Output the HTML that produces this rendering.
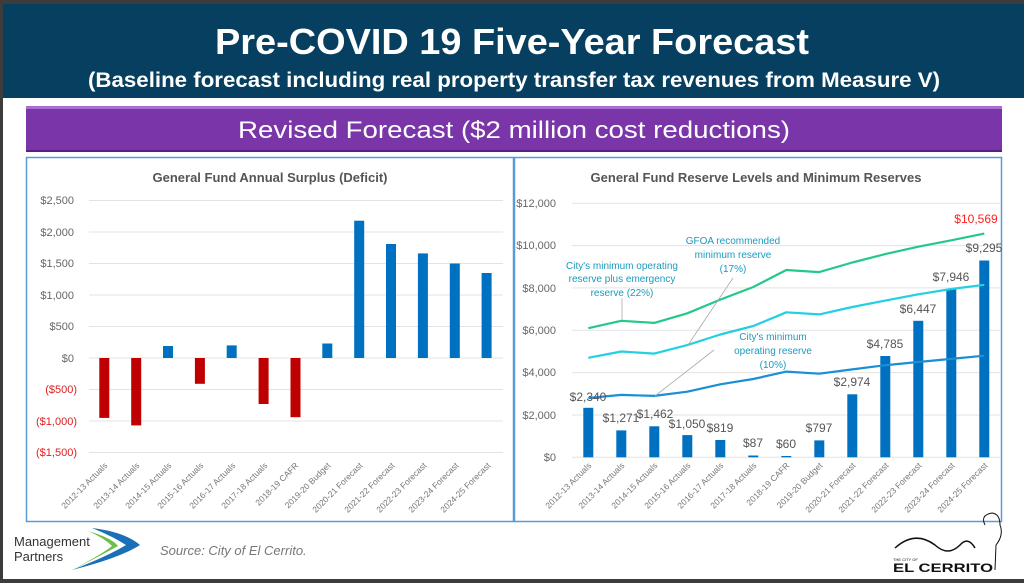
<!DOCTYPE html>
<html><head><meta charset="utf-8"><style>
html,body{margin:0;padding:0;background:#fff;}
svg{display:block;}
text{font-family:"Liberation Sans",sans-serif;}
</style></head><body>
<svg width="1024" height="583" viewBox="0 0 1024 583" xmlns="http://www.w3.org/2000/svg">
<rect x="0" y="0" width="1024" height="583" fill="#fff"/>
<rect x="0" y="0" width="1024" height="4" fill="#3c3c3c"/>
<rect x="0" y="0" width="3" height="583" fill="#3c3c3c"/>
<rect x="0" y="579" width="1024" height="4" fill="#3c3c3c"/>
<rect x="3" y="4" width="1021" height="94" fill="#063f5f"/>
<text x="512" y="54" text-anchor="middle" font-size="36" font-weight="bold" fill="#fff" textLength="594" lengthAdjust="spacingAndGlyphs">Pre-COVID 19 Five-Year Forecast</text>
<text x="514" y="87" text-anchor="middle" font-size="21" font-weight="bold" fill="#fff" textLength="852" lengthAdjust="spacingAndGlyphs">(Baseline forecast including real property transfer tax revenues from Measure V)</text>
<rect x="26" y="106" width="976" height="45" fill="#7a35a8"/>
<rect x="26" y="106" width="976" height="3" fill="#a86fd0"/>
<rect x="26" y="150" width="976" height="2" fill="#5a2080"/>
<text x="514" y="138" text-anchor="middle" font-size="24" fill="#fff" textLength="552" lengthAdjust="spacingAndGlyphs">Revised Forecast ($2 million cost reductions)</text>
<!-- panels -->
<rect x="26.5" y="157.5" width="487" height="364" fill="#fff" stroke="#5b9bd5" stroke-width="1.5"/>
<rect x="514.5" y="157.5" width="487" height="364" fill="#fff" stroke="#5b9bd5" stroke-width="1.5"/>

<!-- LEFT CHART -->
<text x="270" y="182" text-anchor="middle" font-size="13" font-weight="bold" fill="#555">General Fund Annual Surplus (Deficit)</text>
<g stroke="#e3e3e3" stroke-width="1">
<line x1="89" x2="503" y1="200.5" y2="200.5"/><line x1="89" x2="503" y1="232" y2="232"/>
<line x1="89" x2="503" y1="263.5" y2="263.5"/><line x1="89" x2="503" y1="295" y2="295"/>
<line x1="89" x2="503" y1="326.5" y2="326.5"/><line x1="89" x2="503" y1="358" y2="358"/>
<line x1="89" x2="503" y1="389.5" y2="389.5"/><line x1="89" x2="503" y1="421" y2="421"/>
<line x1="89" x2="503" y1="452.5" y2="452.5"/>
</g>
<g font-size="11" fill="#666" text-anchor="end">
<text x="74" y="204">$2,500</text><text x="74" y="236">$2,000</text><text x="74" y="267">$1,500</text>
<text x="74" y="299">$1,000</text><text x="74" y="330">$500</text><text x="74" y="362">$0</text>
</g>
<g font-size="11" fill="#e02020" text-anchor="end">
<text x="77" y="393">($500)</text><text x="77" y="425">($1,000)</text><text x="77" y="456">($1,500)</text>
</g>
<g fill="#c00000">
<rect x="99.3" y="358" width="10" height="59.9"/><rect x="131.2" y="358" width="10" height="67.4"/>
<rect x="194.9" y="358" width="10" height="25.8"/><rect x="258.6" y="358" width="10" height="46"/>
<rect x="290.5" y="358" width="10" height="59.2"/>
</g>
<g fill="#0070c0">
<rect x="163" y="346" width="10" height="12"/><rect x="226.7" y="345.4" width="10" height="12.6"/>
<rect x="322.3" y="343.5" width="10" height="14.5"/><rect x="354.2" y="220.7" width="10" height="137.3"/>
<rect x="386" y="244" width="10" height="114"/><rect x="417.9" y="253.4" width="10" height="104.6"/>
<rect x="449.8" y="263.5" width="10" height="94.5"/><rect x="481.6" y="273" width="10" height="85"/>
</g>
<g font-size="8.5" fill="#777" text-anchor="end">
<text transform="translate(108,466) rotate(-45)">2012-13 Actuals</text>
<text transform="translate(140,466) rotate(-45)">2013-14 Actuals</text>
<text transform="translate(172,466) rotate(-45)">2014-15 Actuals</text>
<text transform="translate(204,466) rotate(-45)">2015-16 Actuals</text>
<text transform="translate(236,466) rotate(-45)">2016-17 Actuals</text>
<text transform="translate(268,466) rotate(-45)">2017-18 Actuals</text>
<text transform="translate(299,466) rotate(-45)">2018-19 CAFR</text>
<text transform="translate(331,466) rotate(-45)">2019-20 Budget</text>
<text transform="translate(363,466) rotate(-45)">2020-21 Forecast</text>
<text transform="translate(395,466) rotate(-45)">2021-22 Forecast</text>
<text transform="translate(427,466) rotate(-45)">2022-23 Forecast</text>
<text transform="translate(459,466) rotate(-45)">2023-24 Forecast</text>
<text transform="translate(491,466) rotate(-45)">2024-25 Forecast</text>
</g>

<!-- RIGHT CHART -->
<text x="756" y="182" text-anchor="middle" font-size="13" font-weight="bold" fill="#555">General Fund Reserve Levels and Minimum Reserves</text>
<g stroke="#e3e3e3" stroke-width="1">
<line x1="572" x2="1000" y1="203.3" y2="203.3"/><line x1="572" x2="1000" y1="245.6" y2="245.6"/>
<line x1="572" x2="1000" y1="287.9" y2="287.9"/><line x1="572" x2="1000" y1="330.3" y2="330.3"/>
<line x1="572" x2="1000" y1="372.6" y2="372.6"/><line x1="572" x2="1000" y1="415" y2="415"/>
<line x1="572" x2="1000" y1="457.3" y2="457.3"/>
</g>
<g font-size="11" fill="#666" text-anchor="end">
<text x="556" y="207">$12,000</text><text x="556" y="249">$10,000</text><text x="556" y="292">$8,000</text>
<text x="556" y="334">$6,000</text><text x="556" y="376">$4,000</text><text x="556" y="419">$2,000</text>
<text x="556" y="461">$0</text>
</g>
<g fill="#0070c0">
<rect x="583.3" y="407.8" width="10" height="49.5"/><rect x="616.3" y="430.4" width="10" height="26.9"/>
<rect x="649.3" y="426.3" width="10" height="31"/><rect x="682.3" y="435.1" width="10" height="22.2"/>
<rect x="715.3" y="440" width="10" height="17.3"/><rect x="748.3" y="455.5" width="10" height="1.8"/>
<rect x="781.3" y="456" width="10" height="1.3"/><rect x="814.3" y="440.4" width="10" height="16.9"/>
<rect x="847.3" y="394.3" width="10" height="63"/><rect x="880.3" y="356" width="10" height="101.3"/>
<rect x="913.3" y="320.8" width="10" height="136.5"/><rect x="946.3" y="289.1" width="10" height="168.2"/>
<rect x="979.3" y="260.5" width="10" height="196.8"/>
</g>
<g fill="none" stroke-width="2.2" stroke-linejoin="round">
<polyline stroke="#24c98a" points="588.3,328.2 621.3,320.8 654.3,322.9 687.3,313.3 720.3,299.6 753.3,287 786.3,270 819.3,272.1 852.3,262.5 885.3,254.1 918.3,246.7 951.3,240.3 984.3,233.6"/>
<polyline stroke="#22d0e0" points="588.3,357.8 621.3,351.5 654.3,353.6 687.3,345.1 720.3,334.5 753.3,326 786.3,312.3 819.3,314.4 852.3,307 885.3,300.6 918.3,294.3 951.3,289 984.3,284.8"/>
<polyline stroke="#1a8fd8" points="588.3,398 621.3,394.9 654.3,395.9 687.3,391.7 720.3,384.3 753.3,379 786.3,371.6 819.3,373.7 852.3,369.4 885.3,365.2 918.3,362 951.3,358.9 984.3,355.7"/>
</g>
<g stroke="#aaa" stroke-width="0.8">
<line x1="622" y1="298" x2="622" y2="320"/>
<line x1="733" y1="278" x2="688" y2="345"/>
<line x1="714" y1="350" x2="655" y2="396"/>
</g>
<g font-size="10" fill="#1b9bbd" text-anchor="middle">
<text x="622" y="269">City's minimum operating</text><text x="622" y="282">reserve plus emergency</text><text x="622" y="296">reserve (22%)</text>
<text x="733" y="244">GFOA recommended</text><text x="733" y="258">minimum reserve</text><text x="733" y="272">(17%)</text>
<text x="773" y="340">City's minimum</text><text x="773" y="354">operating reserve</text><text x="773" y="368">(10%)</text>
</g>
<g font-size="12" fill="#555" text-anchor="middle">
<text x="588" y="401">$2,340</text><text x="621" y="422">$1,271</text><text x="655" y="418">$1,462</text>
<text x="687" y="428">$1,050</text><text x="720" y="432">$819</text><text x="753" y="447">$87</text>
<text x="786" y="448">$60</text><text x="819" y="432">$797</text><text x="852" y="386">$2,974</text>
<text x="885" y="348">$4,785</text><text x="918" y="313">$6,447</text><text x="951" y="281">$7,946</text>
<text x="984" y="252">$9,295</text>
</g>
<text x="976" y="223" text-anchor="middle" font-size="12" fill="#ff2020">$10,569</text>
<g font-size="8.5" fill="#777" text-anchor="end">
<text transform="translate(592,466) rotate(-45)">2012-13 Actuals</text>
<text transform="translate(625,466) rotate(-45)">2013-14 Actuals</text>
<text transform="translate(658,466) rotate(-45)">2014-15 Actuals</text>
<text transform="translate(691,466) rotate(-45)">2015-16 Actuals</text>
<text transform="translate(724,466) rotate(-45)">2016-17 Actuals</text>
<text transform="translate(757,466) rotate(-45)">2017-18 Actuals</text>
<text transform="translate(790,466) rotate(-45)">2018-19 CAFR</text>
<text transform="translate(823,466) rotate(-45)">2019-20 Budget</text>
<text transform="translate(856,466) rotate(-45)">2020-21 Forecast</text>
<text transform="translate(889,466) rotate(-45)">2021-22 Forecast</text>
<text transform="translate(922,466) rotate(-45)">2022-23 Forecast</text>
<text transform="translate(955,466) rotate(-45)">2023-24 Forecast</text>
<text transform="translate(988,466) rotate(-45)">2024-25 Forecast</text>
</g>

<!-- footer -->
<text x="14" y="546" font-size="13" fill="#333">Management</text>
<text x="14" y="561" font-size="13" fill="#333">Partners</text>
<path d="M92,528 Q125,532 140,545 Q120,558 72,570 Q108,556 126,545 Q112,536 92,528 Z" fill="#1a6fb8"/>
<path d="M88,531 Q112,538 118,546 Q100,556 72,570 Q104,553 112,546 Q104,538 88,531 Z" fill="#6cc04a"/>
<text x="160" y="555" font-size="13" font-style="italic" fill="#777">Source: City of El Cerrito.</text>
<path d="M895,548 Q915,530 935,545 Q948,557 960,545 Q968,536 975,548" fill="none" stroke="#111" stroke-width="1.5"/>
<path d="M985,525 Q980,515 992,513 Q1000,514 1000,525 Q1004,535 996,545 L995,570" fill="none" stroke="#111" stroke-width="1"/>
<text x="893" y="572" font-size="12" font-weight="bold" fill="#111" textLength="100" lengthAdjust="spacingAndGlyphs">EL CERRITO</text>
<text x="893" y="561" font-size="4" fill="#111">THE CITY OF</text>
</svg>
</body></html>
